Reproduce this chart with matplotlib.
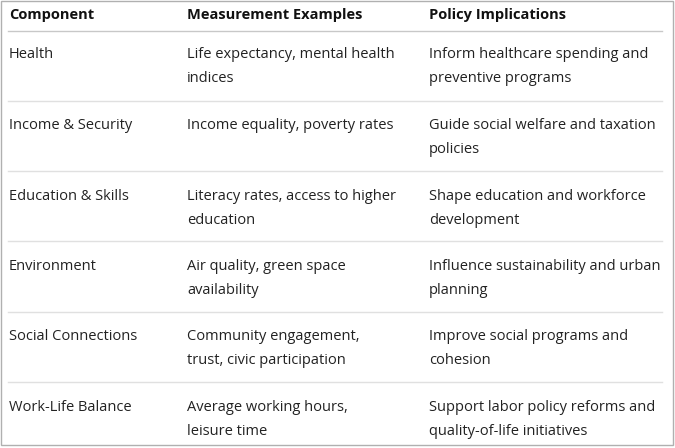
import matplotlib
matplotlib.use("Agg")
import matplotlib.pyplot as plt
from matplotlib.patches import Rectangle

headers = ["Component", "Measurement Examples", "Policy Implications"]
components = ["Health", "Income & Security", "Education & Skills", "Environment",
              "Social Connections", "Work-Life Balance"]
measurements = ["Life expectancy, mental health\nindices", "Income equality, poverty rates",
                "Literacy rates, access to higher\neducation", "Air quality, green space\navailability",
                "Community engagement,\ntrust, civic participation", "Average working hours,\nleisure time"]
policies = ["Inform healthcare spending and\npreventive programs", "Guide social welfare and taxation\npolicies",
            "Shape education and workforce\ndevelopment", "Influence sustainability and urban\nplanning",
            "Improve social programs and\ncohesion", "Support labor policy reforms and\nquality-of-life initiatives"]

W, H = 675, 448
fig = plt.figure(figsize=(W/100, H/100), dpi=100)
ax = fig.add_axes([0, 0, 1, 1])
ax.set_xlim(0, W); ax.set_ylim(H, 0); ax.axis("off")
ax.add_patch(Rectangle((1, 1), W-3, H-4, fill=False, ec="#b0b0b0", lw=1))

font = "Open Sans"
colx = [9, 187, 429]
for x, h in zip(colx, headers):
    ax.text(x, 15, h, fontsize=10.5, fontweight="bold", family=font, va="center", color="#111111")
ax.plot([8, 662], [31, 31], color="#c8c8c8", lw=1)
for i in range(len(components)):
    y0 = 55 + i*70.5
    for x, t in zip(colx, [components[i], measurements[i], policies[i]]):
        for j, line in enumerate(t.split("\n")):
            ax.text(x, y0 + 24*j, line, fontsize=10.5, family=font, va="center", color="#222222")
    if i < len(components) - 1:
        yl = 101 + i*70.2
        ax.plot([8, 662], [yl, yl], color="#e0e0e0", lw=1)
fig.savefig("out.png", dpi=100)
